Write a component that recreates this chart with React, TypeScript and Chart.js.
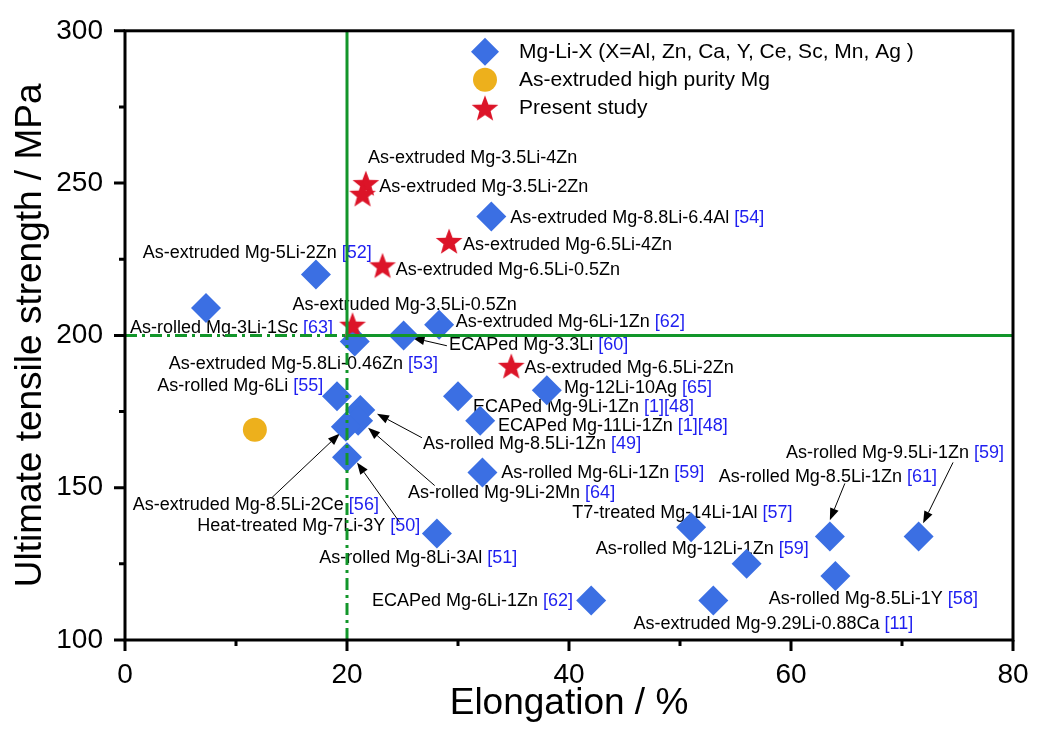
import React, { useEffect, useRef } from "react";
import { Chart, registerables } from "chart.js";

Chart.register(...registerables);

const FONT = "Arial, 'Liberation Sans', sans-serif";
const BLUE = "#3b6fe3";
const ORANGE = "#edb01c";
const RED = "#dc1428";
const GREEN = "#12962a";
const REF_BLUE = "#1e1ef0";

// Mg-Li-X alloys from the literature
const alloyElong = [
  33.0, 17.2, 7.3, 28.3, 25.1, 20.7, 19.1, 21.2, 21.0, 19.9, 20.0, 28.1,
  30.0, 32.0, 38.0, 32.2, 51.0, 56.0, 63.5, 71.5, 64.0, 42.0, 53.0,
];
const alloyUts = [
  239, 220, 209, 203.5, 200, 198, 180, 175.5, 172, 170, 160, 135,
  180, 172, 182, 155, 137, 125, 134, 134, 121, 113, 113,
];

// as-extruded high purity Mg
const pureMgElong = [11.7];
const pureMgUts = [169];

// present study
const presentElong = [21.7, 21.4, 29.2, 23.2, 20.5, 34.8];
const presentUts = [250, 246.5, 231, 223, 203.5, 190];

// guide lines
const guideElong = 20;
const guideUts = 200;

const xMajor = [0, 20, 40, 60, 80];
const xMinor = [10, 30, 50, 70];
const yMajor = [100, 150, 200, 250, 300];
const yMinor = [125, 175, 225, 275];

// text labels, anchored in data units (left edge, middle)
const labelTexts = [
  "As-extruded Mg-3.5Li-4Zn",
  "As-extruded Mg-3.5Li-2Zn",
  "As-extruded Mg-8.8Li-6.4Al",
  "As-extruded Mg-6.5Li-4Zn",
  "As-extruded Mg-6.5Li-0.5Zn",
  "As-extruded Mg-5Li-2Zn",
  "As-extruded Mg-3.5Li-0.5Zn",
  "As-rolled Mg-3Li-1Sc",
  "As-extruded Mg-6Li-1Zn",
  "ECAPed Mg-3.3Li",
  "As-extruded Mg-5.8Li-0.46Zn",
  "As-rolled Mg-6Li",
  "As-extruded Mg-6.5Li-2Zn",
  "Mg-12Li-10Ag",
  "ECAPed Mg-9Li-1Zn",
  "ECAPed Mg-11Li-1Zn",
  "As-rolled Mg-8.5Li-1Zn",
  "As-rolled Mg-6Li-1Zn",
  "As-rolled Mg-9Li-2Mn",
  "As-extruded Mg-8.5Li-2Ce",
  "Heat-treated Mg-7Li-3Y",
  "As-rolled Mg-8Li-3Al",
  "T7-treated Mg-14Li-1Al",
  "As-rolled Mg-12Li-1Zn",
  "As-rolled Mg-9.5Li-1Zn",
  "As-rolled Mg-8.5Li-1Zn",
  "As-rolled Mg-8.5Li-1Y",
  "As-extruded Mg-9.29Li-0.88Ca",
  "ECAPed Mg-6Li-1Zn",
];
const labelRefs = [
  "", "", "[54]", "", "", "[52]", "", "[63]", "[62]", "[60]", "[53]", "[55]",
  "", "[65]", "[1][48]", "[1][48]", "[49]", "[59]", "[64]", "[56]", "[50]",
  "[51]", "[57]", "[59]", "[59]", "[61]", "[58]", "[11]", "[62]",
];
const labelX = [
  21.9, 22.9, 34.7, 30.45, 24.4, 1.6, 15.1, 0.45, 29.8, 29.2, 3.95, 2.9,
  36.0, 39.55, 31.35, 33.6, 26.85, 33.9, 25.5, 0.7, 6.5, 17.5, 40.3, 42.4,
  59.55, 53.5, 58.0, 45.8, 22.25,
];
const labelY = [
  258.1, 248.6, 238.5, 229.6, 221.4, 227.0, 210.0, 202.5, 204.4, 196.9,
  190.7, 183.5, 189.4, 182.8, 176.6, 170.4, 164.5, 154.7, 148.1, 144.2,
  137.3, 126.8, 141.6, 129.8, 161.5, 153.4, 113.4, 105.2, 112.8,
];

// leader arrows: [fromX, fromY, toX, toY] in data units
const arrows = [
  [29.0, 196.6, 25.9, 199.2],
  [26.75, 166.4, 22.7, 174.3],
  [27.9, 150.7, 21.9, 169.7],
  [13.25, 146.8, 19.35, 167.8],
  [24.75, 138.6, 20.9, 158.3],
  [74.6, 158.3, 71.9, 138.3],
  [64.85, 151.4, 63.5, 139.3],
];

const pts = (xs: number[], ys: number[]) => xs.map((x, i) => ({ x, y: ys[i] }));

const makeStar = (r: number, color: string) => {
  const c = document.createElement("canvas");
  c.width = c.height = Math.ceil(r * 2 + 2);
  const g = c.getContext("2d")!;
  const cx = c.width / 2;
  const cy = c.height / 2 + r * 0.1;
  g.beginPath();
  for (let i = 0; i < 10; i++) {
    const rr = i % 2 ? r * 0.42 : r;
    const a = -Math.PI / 2 + (i * Math.PI) / 5;
    g.lineTo(cx + rr * Math.cos(a), cy + rr * Math.sin(a));
  }
  g.closePath();
  g.fillStyle = color;
  g.fill();
  return c;
};

const labelsPlugin = {
  id: "labels",
  beforeDatasetsDraw(chart: any) {
    const { ctx, scales } = chart;
    const { x, y } = scales;
    ctx.save();
    ctx.font = `18px ${FONT}`;
    ctx.textBaseline = "middle";
    ctx.textAlign = "left";
    labelTexts.forEach((text, i) => {
      const px = x.getPixelForValue(labelX[i]);
      const py = y.getPixelForValue(labelY[i]);
      ctx.fillStyle = "#000";
      ctx.fillText(text, px, py);
      if (labelRefs[i]) {
        ctx.fillStyle = REF_BLUE;
        ctx.fillText(labelRefs[i], px + ctx.measureText(text + " ").width, py);
      }
    });
    ctx.strokeStyle = "#000";
    ctx.fillStyle = "#000";
    ctx.lineWidth = 1;
    for (const [ax, ay, bx, by] of arrows) {
      const x1 = x.getPixelForValue(ax);
      const y1 = y.getPixelForValue(ay);
      const x2 = x.getPixelForValue(bx);
      const y2 = y.getPixelForValue(by);
      const ang = Math.atan2(y2 - y1, x2 - x1);
      const len = 12;
      const hw = 4.5;
      const bxp = x2 - len * Math.cos(ang);
      const byp = y2 - len * Math.sin(ang);
      ctx.beginPath();
      ctx.moveTo(x1, y1);
      ctx.lineTo(bxp, byp);
      ctx.stroke();
      ctx.beginPath();
      ctx.moveTo(x2, y2);
      ctx.lineTo(bxp + hw * Math.sin(ang), byp - hw * Math.cos(ang));
      ctx.lineTo(bxp - hw * Math.sin(ang), byp + hw * Math.cos(ang));
      ctx.closePath();
      ctx.fill();
    }
    ctx.restore();
  },
  afterDraw(chart: any) {
    const { ctx, chartArea: a, scales } = chart;
    const { x, y } = scales;
    ctx.save();
    ctx.strokeStyle = "#000";
    ctx.lineWidth = 3;
    ctx.strokeRect(a.left, a.top, a.right - a.left, a.bottom - a.top);
    ctx.beginPath();
    xMajor.forEach((v) => {
      const px = x.getPixelForValue(v);
      ctx.moveTo(px, a.bottom);
      ctx.lineTo(px, a.bottom + 11);
    });
    xMinor.forEach((v) => {
      const px = x.getPixelForValue(v);
      ctx.moveTo(px, a.bottom);
      ctx.lineTo(px, a.bottom + 6);
    });
    yMajor.forEach((v) => {
      const py = y.getPixelForValue(v);
      ctx.moveTo(a.left, py);
      ctx.lineTo(a.left - 11, py);
    });
    yMinor.forEach((v) => {
      const py = y.getPixelForValue(v);
      ctx.moveTo(a.left, py);
      ctx.lineTo(a.left - 6, py);
    });
    ctx.stroke();

    // legend
    const ds = chart.data.datasets.filter((d: any) => d.inLegend).reverse();
    const lx = a.left + 360;
    ctx.font = `21px ${FONT}`;
    ctx.textBaseline = "middle";
    ds.forEach((d: any, i: number) => {
      const cy = a.top + 21 + i * 28;
      ctx.fillStyle = d.backgroundColor;
      if (d.pointStyle === "rectRot") {
        ctx.beginPath();
        ctx.moveTo(lx - 14, cy);
        ctx.lineTo(lx, cy - 14);
        ctx.lineTo(lx + 14, cy);
        ctx.lineTo(lx, cy + 14);
        ctx.closePath();
        ctx.fill();
      } else if (d.pointStyle === "circle") {
        ctx.beginPath();
        ctx.arc(lx, cy, 12, 0, Math.PI * 2);
        ctx.fill();
      } else {
        const img = d.pointStyle as HTMLCanvasElement;
        ctx.drawImage(img, lx - img.width / 2, cy - img.height / 2);
      }
      ctx.fillStyle = "#000";
      ctx.fillText(d.label, lx + 34, cy);
    });
    ctx.restore();
  },
};

export default function App() {
  const canvasRef = useRef<HTMLCanvasElement>(null);

  useEffect(() => {
    document.body.style.margin = "0";
    const star = makeStar(14, RED);
    const guide = {
      showLine: true,
      pointRadius: 0,
      borderColor: GREEN,
      borderWidth: 3,
      fill: false,
    };
    const chart = new Chart(canvasRef.current!, {
      type: "scatter",
      data: {
        datasets: [
          { ...guide, data: [{ x: guideElong, y: guideUts }, { x: guideElong, y: 300 }] },
          { ...guide, data: [{ x: guideElong, y: guideUts }, { x: 80, y: guideUts }] },
          { ...guide, borderDash: [12, 5, 3, 5], data: [{ x: guideElong, y: 100 }, { x: guideElong, y: guideUts }] },
          { ...guide, borderDash: [12, 5, 3, 5], data: [{ x: 0, y: guideUts }, { x: guideElong, y: guideUts }] },
          {
            label: "Present study",
            inLegend: true,
            data: pts(presentElong, presentUts),
            pointStyle: star,
            backgroundColor: RED,
          },
          {
            label: "As-extruded high purity Mg",
            inLegend: true,
            data: pts(pureMgElong, pureMgUts),
            pointStyle: "circle",
            pointRadius: 12,
            borderWidth: 0,
            backgroundColor: ORANGE,
          },
          {
            label: "Mg-Li-X (X=Al, Zn, Ca, Y, Ce, Sc, Mn, Ag )",
            inLegend: true,
            data: pts(alloyElong, alloyUts),
            pointStyle: "rectRot",
            pointRadius: 15,
            borderWidth: 0,
            backgroundColor: BLUE,
          },
        ] as any,
      },
      options: {
        animation: false,
        responsive: true,
        maintainAspectRatio: false,
        events: [],
        layout: { padding: { top: 29, right: 50, left: 0, bottom: 0 } },
        plugins: {
          legend: { display: false },
          tooltip: { enabled: false },
        },
        scales: {
          x: {
            min: 0,
            max: 80,
            grid: { display: false },
            border: { display: false },
            ticks: {
              stepSize: 20,
              padding: 10,
              color: "#000",
              font: { size: 28, family: FONT },
            },
            title: {
              display: true,
              text: "Elongation / %",
              color: "#000",
              font: { size: 37, family: FONT },
              padding: { top: 0, bottom: 10 },
            },
            afterFit: (s: any) => {
              s.height = 96;
            },
          },
          y: {
            min: 100,
            max: 300,
            grid: { display: false },
            border: { display: false },
            ticks: {
              stepSize: 50,
              padding: 14,
              color: "#000",
              font: { size: 28, family: FONT },
            },
            title: {
              display: true,
              text: "Ultimate tensile strength / MPa",
              color: "#000",
              font: { size: 37, family: FONT },
              padding: { top: 9, bottom: 0 },
            },
            afterFit: (s: any) => {
              s.width = 125;
            },
          },
        },
      },
      plugins: [labelsPlugin],
    });
    return () => {
      chart.destroy();
    };
  }, []);

  return (
    <div style={{ width: "1063px", height: "736px", background: "#fff" }}>
      <canvas ref={canvasRef} />
    </div>
  );
}
